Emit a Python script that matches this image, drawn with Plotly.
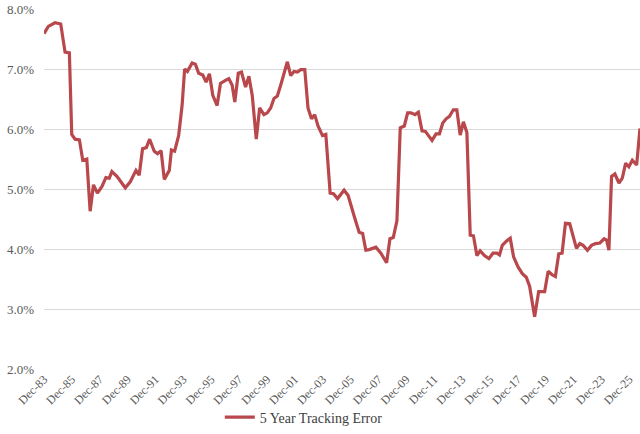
import plotly.graph_objects as go

# Decimal years (Dec-83 = 1983.917)
years = [
    1983.92, 1984.23, 1984.71, 1985.12, 1985.43, 1985.74, 1985.91, 1986.15, 1986.46, 1986.70,
    1986.99, 1987.23, 1987.47, 1987.75, 1988.07, 1988.36, 1988.60, 1988.79, 1989.15, 1989.75,
    1990.11, 1990.52, 1990.75, 1990.99, 1991.26, 1991.50, 1991.83, 1992.07, 1992.32, 1992.55,
    1992.91, 1993.06, 1993.29, 1993.58, 1993.83, 1994.01, 1994.21, 1994.55, 1994.78, 1995.02,
    1995.31, 1995.55, 1995.79, 1996.03, 1996.34, 1996.58, 1996.94, 1997.18, 1997.42, 1997.61,
    1997.86, 1998.09, 1998.38, 1998.62, 1998.86, 1999.15, 1999.39, 1999.70, 1999.94, 2000.18,
    2000.42, 2000.66, 2000.90, 2001.14, 2001.38, 2001.62, 2001.86, 2002.10, 2002.34, 2002.63,
    2002.86, 2003.11, 2003.34, 2003.58, 2003.90, 2004.14, 2004.45, 2004.69, 2004.98, 2005.45,
    2005.74, 2006.17, 2006.53, 2006.78, 2007.01, 2007.25, 2007.73, 2008.09, 2008.50, 2008.74,
    2008.98, 2009.24, 2009.48, 2009.77, 2010.01, 2010.25, 2010.54, 2010.78, 2011.04, 2011.28,
    2011.76, 2012.05, 2012.29, 2012.53, 2012.77, 2013.01, 2013.29, 2013.54, 2013.78, 2014.01,
    2014.26, 2014.50, 2014.73, 2014.98, 2015.21, 2015.52, 2015.84, 2016.13, 2016.42, 2016.60,
    2016.80, 2017.09, 2017.37, 2017.61, 2017.93, 2018.24, 2018.52, 2018.76, 2019.12, 2019.41,
    2019.84, 2020.09, 2020.37, 2020.61, 2020.85, 2021.09, 2021.33, 2021.64, 2021.88, 2022.12,
    2022.36, 2022.60, 2022.91, 2023.20, 2023.49, 2023.80, 2024.11, 2024.28, 2024.45, 2024.64,
    2024.88, 2025.17, 2025.41, 2025.65, 2025.88, 2026.13, 2026.44, 2026.68,
]

# 5 Year Tracking Error, in percent
tracking_error = [
    7.59, 7.71, 7.77, 7.75, 7.28, 7.27, 5.91, 5.83, 5.82, 5.48,
    5.50, 4.63, 5.07, 4.93, 5.04, 5.19, 5.18, 5.29, 5.21, 5.02,
    5.12, 5.31, 5.23, 5.67, 5.69, 5.83, 5.63, 5.59, 5.64, 5.16,
    5.31, 5.65, 5.63, 5.89, 6.40, 7.00, 6.96, 7.10, 7.08, 6.93,
    6.90, 6.78, 6.92, 6.56, 6.39, 6.76, 6.81, 6.84, 6.73, 6.45,
    6.93, 6.95, 6.70, 6.88, 6.56, 5.83, 6.35, 6.24, 6.27, 6.35,
    6.51, 6.55, 6.73, 6.95, 7.12, 6.89, 6.96, 6.95, 6.99, 6.99,
    6.35, 6.17, 6.24, 6.05, 5.89, 5.91, 4.93, 4.92, 4.84, 4.98,
    4.89, 4.55, 4.28, 4.26, 3.98, 3.99, 4.03, 3.93, 3.77, 4.17,
    4.19, 4.47, 6.02, 6.05, 6.27, 6.27, 6.24, 6.28, 5.97, 5.96,
    5.81, 5.92, 5.92, 6.10, 6.17, 6.21, 6.32, 6.32, 5.90, 6.12,
    5.94, 4.23, 4.22, 3.89, 3.97, 3.89, 3.84, 3.93, 3.93, 3.90,
    4.06, 4.13, 4.18, 3.87, 3.70, 3.59, 3.53, 3.38, 2.87, 3.29,
    3.29, 3.63, 3.57, 3.54, 3.92, 3.93, 4.43, 4.42, 4.20, 4.01,
    4.09, 4.06, 3.98, 4.06, 4.09, 4.10, 4.17, 4.15, 3.98, 5.21,
    5.25, 5.10, 5.18, 5.43, 5.37, 5.48, 5.40, 6.01,
]

tick_years = [1983.917 + 2 * i for i in range(22)]
tick_labels = ["Dec-83", "Dec-85", "Dec-87", "Dec-89", "Dec-91", "Dec-93", "Dec-95",
               "Dec-97", "Dec-99", "Dec-01", "Dec-03", "Dec-05", "Dec-07", "Dec-09",
               "Dec-11", "Dec-13", "Dec-15", "Dec-17", "Dec-19", "Dec-21", "Dec-23",
               "Dec-25"]

y_ticks = [2, 3, 4, 5, 6, 7, 8]
y_tick_labels = ["2.0%", "3.0%", "4.0%", "5.0%", "6.0%", "7.0%", "8.0%"]

serif = "Liberation Serif, Times New Roman, serif"

fig = go.Figure()
fig.add_trace(go.Scatter(
    x=years, y=tracking_error, mode="lines",
    name="5 Year Tracking Error",
    line=dict(color="#B8484B", width=3.2),
))

fig.update_layout(
    width=640, height=434,
    margin=dict(l=44, r=0, t=9, b=57),
    paper_bgcolor="white", plot_bgcolor="white",
    showlegend=True,
    legend=dict(orientation="h", x=0.295, xanchor="left", y=-0.135, yanchor="middle",
                font=dict(family=serif, size=14, color="#404040"),
                bgcolor="rgba(0,0,0,0)"),
    font=dict(family=serif, color="#595959"),
)
fig.update_xaxes(
    range=[years[0], years[-1]],
    tickvals=tick_years, ticktext=tick_labels,
    tickangle=-45, tickfont=dict(family=serif, size=12, color="#595959"),
    showgrid=False, zeroline=False, showline=False, ticks="",
    automargin=False,
)
fig.update_yaxes(
    range=[2, 8], tickvals=y_ticks, ticktext=y_tick_labels,
    tickfont=dict(family=serif, size=13, color="#595959"),
    showgrid=True, gridcolor="#D9D9D9", gridwidth=1,
    zeroline=False, showline=False, ticks="",
    ticklabelstandoff=9,
    automargin=False,
)

fig.write_html("out.html")
